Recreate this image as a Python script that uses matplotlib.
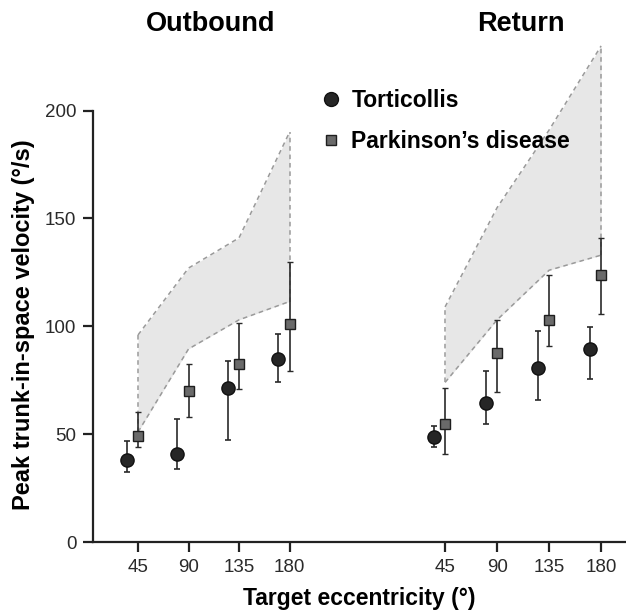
import numpy as np
import matplotlib
matplotlib.use('Agg')
import matplotlib.pyplot as plt
from matplotlib.lines import Line2D

plt.rcParams['font.family'] = ['Liberation Sans', 'DejaVu Sans']

eccentricity = [45, 90, 135, 180]

# Outbound
out_tort = [38, 41, 71.5, 85]
out_tort_lo = [32.5, 34, 47.5, 74]
out_tort_hi = [47, 57, 84, 96.5]
out_park = [49, 70, 82.5, 101]
out_park_lo = [44, 58, 71, 79.5]
out_park_hi = [60.5, 82.5, 101.5, 130]
out_band_lo = [51, 89.5, 103, 111.5]
out_band_hi = [96, 127, 141, 190]

# Return
ret_tort = [48.5, 64.5, 80.5, 89.5]
ret_tort_lo = [44, 54.5, 66, 75.5]
ret_tort_hi = [54, 79.5, 98, 99.5]
ret_park = [54.5, 87.5, 103, 124]
ret_park_lo = [41, 69.5, 91, 105.5]
ret_park_hi = [71.5, 103, 124, 141]
ret_band_lo = [74, 103, 126, 133]
ret_band_hi = [109, 155, 191, 230]

fig = plt.figure(figsize=(6.26, 6.13), dpi=100)
ax = fig.add_axes([0.1486, 0.1158, 0.8514, 0.8445])

pos_out = np.arange(4) + 1.0
pos_ret = 7.08 + np.arange(4) * 1.03
off = -0.22

def draw_panel(pos, tort, tlo, thi, park, plo, phi, blo, bhi):
    ax.fill_between(pos, blo, bhi, color='#e7e7e7', lw=0, zorder=1)
    kw = dict(color='#9a9a9a', lw=1.1, ls=(0, (3, 2.5)), zorder=2)
    ax.plot(pos, blo, **kw)
    ax.plot(pos, bhi, **kw)
    ax.plot([pos[0], pos[0]], [blo[0], bhi[0]], **kw)
    ax.plot([pos[-1], pos[-1]], [blo[-1], bhi[-1]], **kw)
    t = np.array(tort)
    p = np.array(park)
    ax.errorbar(pos + off, t, yerr=[t - np.array(tlo), np.array(thi) - t],
                fmt='o', ms=9.5, mfc='#262626', mec='#111111', ecolor='#2a2a2a',
                elinewidth=1.2, capsize=2.5, capthick=1.2, zorder=4)
    ax.errorbar(pos, p, yerr=[p - np.array(plo), np.array(phi) - p],
                fmt='s', ms=7, mfc='#6a6a6a', mec='#1e1e1e', mew=1, ecolor='#2a2a2a',
                elinewidth=1.2, capsize=2.5, capthick=1.2, zorder=4)

draw_panel(pos_out, out_tort, out_tort_lo, out_tort_hi, out_park, out_park_lo,
           out_park_hi, out_band_lo, out_band_hi)
draw_panel(pos_ret, ret_tort, ret_tort_lo, ret_tort_hi, ret_park, ret_park_lo,
           ret_park_hi, ret_band_lo, ret_band_hi)

ax.set_xlim(0.109, 10.663)
ax.set_ylim(0, 240)
ax.set_xticks(np.concatenate([pos_out, pos_ret]))
ax.set_xticklabels([str(e) for e in eccentricity] * 2)
ax.set_yticks([0, 50, 100, 150, 200])
ax.spines['top'].set_visible(False)
ax.spines['right'].set_visible(False)
ax.spines['left'].set_bounds(0, 200)
for s in ['left', 'bottom']:
    ax.spines[s].set_linewidth(1.6)
    ax.spines[s].set_color('#222222')
ax.tick_params(axis='both', length=7, width=1.6, color='#222222',
               labelsize=13.5, labelcolor='#2a2a2a', pad=5)

ax.set_ylabel('Peak trunk-in-space velocity (°/s)', fontsize=17, fontweight='bold')
ax.yaxis.set_label_coords(-0.109, 0.419)
fig.text(0.574, 1 - 599 / 613, 'Target eccentricity (°)', fontsize=16.5,
         fontweight='bold', ha='center', va='center')

fig.text(211 / 626, 1 - 24 / 613, 'Outbound', fontsize=19.5, fontweight='bold',
         ha='center', va='center')
fig.text(521 / 626, 1 - 24 / 613, 'Return', fontsize=19.5, fontweight='bold',
         ha='center', va='center')

handles = [Line2D([], [], ls='none', marker='o', ms=10, mfc='#262626', mec='#111111'),
           Line2D([], [], ls='none', marker='s', ms=7, mfc='#6a6a6a', mec='#1e1e1e')]
leg = ax.legend(handles, ['Torticollis', "Parkinson’s disease"], frameon=False,
                loc='upper left', bbox_to_anchor=(317 / 626, 1 - 89 / 613),
                bbox_transform=fig.transFigure, prop={'size': 16.5, 'weight': 'bold'},
                handletextpad=0.3, labelspacing=0.78, handlelength=1.2,
                borderaxespad=0, borderpad=0)

fig.savefig('out.png', dpi=100)
